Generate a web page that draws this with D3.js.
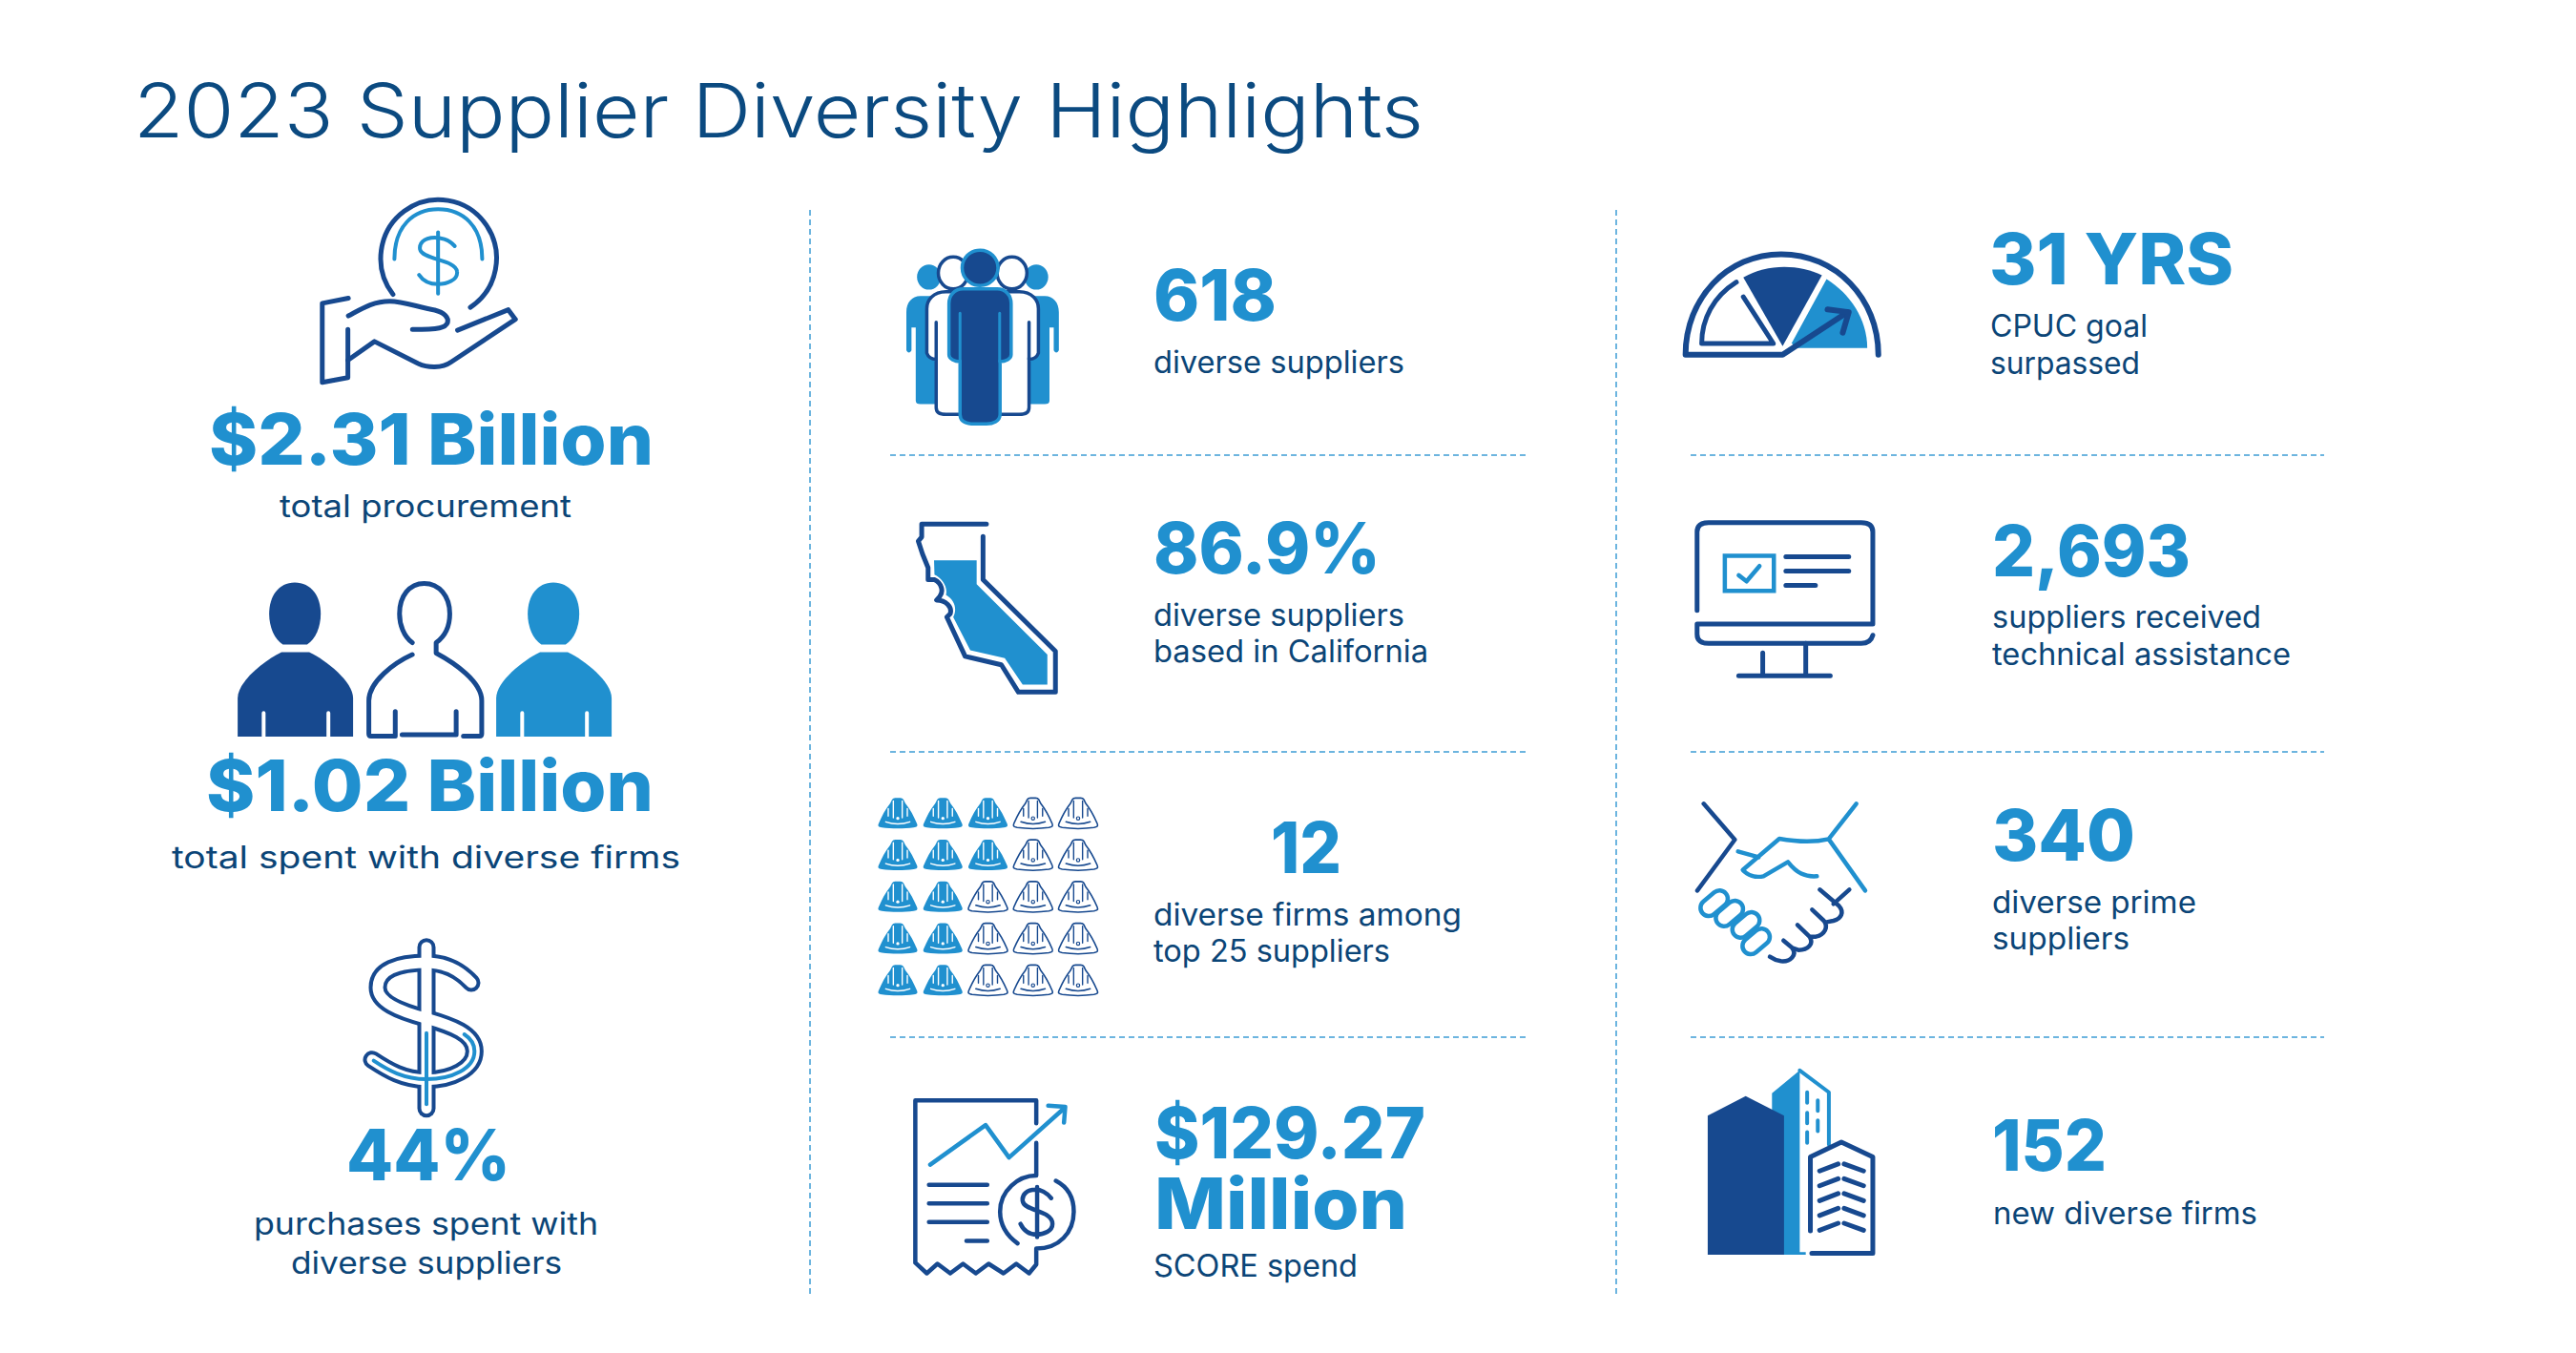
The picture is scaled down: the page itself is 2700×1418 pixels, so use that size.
<!DOCTYPE html>
<html>
<head>
<meta charset="utf-8">
<title>2023 Supplier Diversity Highlights</title>
<script src="https://cdn.jsdelivr.net/npm/d3@7"></script>
<style>
html, body { margin: 0; padding: 0; background: #fff; }
svg { display: block; }
text { font-family: Inter, "Open Sans", sans-serif; }
.title { font-size: 78px; font-weight: 300; fill: #0b4a80; }
.big { font-size: 74px; font-weight: 800; fill: #2090cf; }
.label { font-size: 32px; font-weight: 400; fill: #0b4577; }
path, ellipse, rect, line { vector-effect: non-scaling-stroke; }
</style>
</head>
<body>
<svg id="chart" width="2700" height="1418"></svg>
<script>
var titleText = "2023 Supplier Diversity Highlights";
var leftValues = ["$2.31 Billion", "$1.02 Billion", "44%"];
var leftLabels = ["total procurement", "total spent with diverse firms", "purchases spent with", "diverse suppliers"];
var midValues = ["618", "86.9%", "12", "$129.27", "Million"];
var midLabels = ["diverse suppliers", "diverse suppliers", "based in California", "diverse firms among", "top 25 suppliers", "SCORE spend"];
var rightValues = ["31 YRS", "2,693", "340", "152"];
var rightLabels = ["CPUC goal", "surpassed", "suppliers received", "technical assistance", "diverse prime", "suppliers", "new diverse firms"];
// filled helmets in each row, 12 out of 25
var helmetsFilled = [3, 3, 2, 2, 2];
var helmetColumns = [0, 1, 2, 3, 4];

var NAVY = "#17498f";
var BLUE = "#2090cf";
var DASH = "#6db5df";

var svg = d3.select("#chart");
svg.append("rect").attr("width", 2700).attr("height", 1418).attr("fill", "#fff");

// text is fitted to the width it has in the reference
function txt(s, x, y, w, cls) {
	svg.append("text")
		.attr("class", cls)
		.attr("x", x)
		.attr("y", y)
		.attr("textLength", w)
		.attr("lengthAdjust", "spacingAndGlyphs")
		.text(s);
}

function dashLine(x1, y1, x2, y2) {
	svg.append("line")
		.attr("x1", x1).attr("y1", y1)
		.attr("x2", x2).attr("y2", y2)
		.attr("stroke", DASH)
		.attr("stroke-width", 2)
		.attr("stroke-dasharray", "6 4");
}

// icons are sketched on a box of the given size that covers a part of the page
function box(x, y, w, h, size) {
	return svg.append("g").attr("transform", "translate(" + x + "," + y + ") scale(" + (w / size) + "," + (h / size) + ")");
}

function line(g, d, color, width) {
	return g.append("path")
		.attr("d", d)
		.attr("fill", "none")
		.attr("stroke", color)
		.attr("stroke-width", width)
		.attr("stroke-linecap", "round")
		.attr("stroke-linejoin", "round");
}

function shape(g, d, color) {
	return g.append("path").attr("d", d).attr("fill", color);
}

function oval(g, cx, cy, rx, ry, fill, stroke, width) {
	return g.append("ellipse")
		.attr("cx", cx).attr("cy", cy)
		.attr("rx", rx).attr("ry", ry)
		.attr("fill", fill)
		.attr("stroke", stroke)
		.attr("stroke-width", width);
}

// title and texts
txt(titleText, 140, 144, 1352, "title");

txt(leftValues[0], 219, 487, 466, "big");
txt(leftLabels[0], 293, 542, 306, "label");
txt(leftValues[1], 216, 850, 469, "big");
txt(leftLabels[1], 180, 910, 533, "label");
txt(leftValues[2], 363, 1237, 172, "big");
txt(leftLabels[2], 266, 1294, 361, "label");
txt(leftLabels[3], 305, 1335, 284, "label");

txt(midValues[0], 1209, 336, 129, "big");
txt(midLabels[0], 1209, 391, 263, "label");
txt(midValues[1], 1209, 601, 238, "big");
txt(midLabels[1], 1209, 656, 263, "label");
txt(midLabels[2], 1209, 694, 288, "label");
txt(midValues[2], 1332, 915, 74, "big");
txt(midLabels[3], 1209, 970, 323, "label");
txt(midLabels[4], 1209, 1008, 248, "label");
txt(midValues[3], 1210, 1214, 284, "big");
txt(midValues[4], 1210, 1288, 265, "big");
txt(midLabels[5], 1209, 1338, 214, "label");

txt(rightValues[0], 2085, 298, 256, "big");
txt(rightLabels[0], 2086, 353, 165, "label");
txt(rightLabels[1], 2086, 392, 157, "label");
txt(rightValues[1], 2088, 604, 208, "big");
txt(rightLabels[2], 2088, 658, 282, "label");
txt(rightLabels[3], 2088, 697, 313, "label");
txt(rightValues[2], 2088, 902, 150, "big");
txt(rightLabels[4], 2088, 957, 214, "label");
txt(rightLabels[5], 2088, 995, 144, "label");
txt(rightValues[3], 2088, 1227, 120, "big");
txt(rightLabels[6], 2089, 1283, 277, "label");

// dotted rules
dashLine(849, 220, 849, 1360);
dashLine(1694, 220, 1694, 1360);
[477, 788, 1087].forEach(function (y) {
	dashLine(933, y, 1601, y);
	dashLine(1772, y, 2436, y);
});

// hand with coin
var g = box(100, 40, 780, 560, 1568);
line(g, "M627,752 A122,172 0 1 1 790,790", NAVY, 5);
line(g, "M630,648 C630,552 670,502 722,502 C775,502 815,552 815,648", BLUE, 4);
line(g, "M757,610 C745,590 725,585 715,585 C690,585 682,605 684,620 C688,650 760,650 762,685 C764,710 740,722 722,722 C705,722 690,712 682,695", BLUE, 4);
line(g, "M722,570 V750", BLUE, 4);
line(g, "M533,763 L478,778 V1010 L532,996 V855", NAVY, 5);
line(g, "M533,815 C560,795 585,772 620,772 C650,772 680,790 715,798 C735,805 745,820 742,835 C738,850 725,855 668,855", NAVY, 5);
line(g, "M532,945 L588,890 L680,955 C700,968 730,970 750,950 L885,825 L870,797 L763,857", NAVY, 5);

// three people
g = box(150, 590, 700, 780, 1568);
function person(dx, color) {
	var p = g.append("g").attr("transform", "translate(" + dx + ",0)");
	shape(p, "M356,41 C395,41 417,70 417,107 C417,135 405,160 385,172 H328 C308,160 296,135 296,107 C296,70 318,41 356,41Z", color);
	shape(p, "M325,188 H390 C430,205 493,250 493,285 V366 H222 V285 C222,250 285,205 325,188Z", color);
	line(p, "M283,316 V368 M435,316 V368", "#fff", 4);
}
person(0, NAVY);
person(607, BLUE);
line(g, "M632,168 C612,155 602,130 602,107 C602,70 625,43 660,43 C695,43 720,70 720,107 C720,135 708,155 688,168 V190 C730,210 795,250 795,290 V360 Q795,365 790,365 H752", NAVY, 5);
line(g, "M632,193 C590,210 530,250 530,290 V360 Q530,365 535,365 H592 V313", NAVY, 5);
line(g, "M608,362 H735 V313", NAVY, 5);

// big dollar sign
g = box(360, 980, 200, 200, 600);
var bigS = "M402,150 C360,105 310,87 261,87 C170,87 108,110 108,165 C108,210 170,238 261,262 C340,285 412,310 412,365 C412,420 340,455 261,455 C190,455 140,425 90,392";
line(g, bigS, NAVY, 19);
line(g, "M261,38 V545", NAVY, 19);
line(g, bigS, "#fff", 11);
line(g, "M261,38 V545", "#fff", 11);
line(g, "M380,312 C400,325 412,345 412,365 C412,420 340,453 261,453 C190,453 140,425 95,395", BLUE, 4);
line(g, "M261,308 V532", BLUE, 4);

// group of people
g = box(900, 220, 700, 560, 1568);
function backPeople(p) {
	oval(p, 165, 197, 28, 37, BLUE, "none", 0);
	shape(p, "M200,253 H145 C125,253 112,272 112,300 V412 Q118,425 124,412 V345 H134 V560 Q134,570 145,570 H200 Z", BLUE);
	oval(p, 222, 185, 35, 47, "#fff", NAVY, 3.5);
	p.append("path")
		.attr("d", "M291,240 H205 C175,240 160,265 160,290 V420 Q165,438 182,438 V580 Q182,600 205,600 H291 Z")
		.attr("fill", "#fff")
		.attr("stroke", NAVY)
		.attr("stroke-width", 3.5);
	line(p, "M182,330 V438", NAVY, 3.5);
}
backPeople(g.append("g"));
backPeople(g.append("g").attr("transform", "translate(582,0) scale(-1,1)"));
oval(g, 285, 170, 42, 52, NAVY, BLUE, 3.5);
g.append("path")
	.attr("d", "M245,232 H325 C345,232 358,250 358,275 V425 C358,437 345,445 332,445 V600 C332,620 315,628 300,628 H270 C250,628 238,620 238,600 V445 C225,445 212,437 212,425 V275 C212,250 225,232 245,232Z")
	.attr("fill", NAVY)
	.attr("stroke", BLUE)
	.attr("stroke-width", 3.5);
line(g, "M238,303 V445 M331,303 V445", BLUE, 3);

// california
line(g, "M300,922 H148 V960 L140,972 L150,1010 L163,1050 V1085 H178 C195,1095 200,1120 190,1135 L183,1145 C205,1145 220,1165 215,1185 L207,1195 L250,1310 L335,1335 L375,1415 H462 V1295 L292,1085 V958", NAVY, 5);
shape(g, "M177,1028 H277 V1098 L443,1305 V1393 H385 L343,1315 L262,1292 L222,1195 C232,1170 225,1145 205,1130 C210,1105 195,1080 178,1070 Z", BLUE);

// helmets
var helmetX = d3.scalePoint().domain(helmetColumns).range([941, 1130]);
var helmetY = d3.scalePoint().domain(d3.range(helmetsFilled.length)).range([852, 1027]);
var HELMET = "M-60,33 C-50,10 -40,-10 -24,-30 L-18,-42 Q-15,-47 -8,-47 H8 Q15,-47 18,-42 L24,-30 C40,-10 50,10 60,33 C64,42 60,44 50,46 C20,50 -20,50 -50,46 C-60,44 -64,42 -60,33 Z";
var RIDGES = "M-14,-38 V15 M14,-38 V15 M-30,-14 V10 M30,-14 V10";
var SMILE = "M-38,28 C-15,36 15,36 38,28";
helmetsFilled.forEach(function (filled, row) {
	helmetColumns.forEach(function (col) {
		var h = svg.append("g").attr("transform", "translate(" + helmetX(col) + "," + helmetY(row) + ") scale(0.3333)");
		if (col < filled) {
			shape(h, HELMET, BLUE);
			line(h, RIDGES, "#fff", 1.4);
			line(h, SMILE, "#fff", 1.4);
			oval(h, 0, 17, 5, 5, "#fff", "none", 0);
		} else {
			h.append("path").attr("d", HELMET).attr("fill", "#fff").attr("stroke", NAVY).attr("stroke-width", 1.6);
			line(h, RIDGES, NAVY, 1.4);
			line(h, SMILE, NAVY, 1.6);
			oval(h, 0, 17, 5, 5, "#fff", NAVY, 1.2);
		}
	});
});

// receipt
g = box(900, 800, 700, 580, 1568);
line(g, "M417,1020 V955 H133 V1415 L160,1445 L185,1418 L215,1445 L245,1418 L275,1445 L305,1418 L340,1445 L370,1418 L400,1445 L417,1420 V1375 C470,1375 505,1330 505,1270 C505,1230 490,1200 463,1183", NAVY, 4.5);
line(g, "M417,1075 V1168 C375,1168 332,1210 332,1270 C332,1310 350,1340 373,1360", NAVY, 4.5);
line(g, "M165,1194 H302 M165,1247 H302 M165,1300 H302 M253,1353 H302", NAVY, 4.5);
line(g, "M452,1232 C440,1215 425,1208 415,1208 C395,1208 383,1222 385,1240 C388,1270 455,1265 455,1305 C455,1325 435,1335 418,1335 C400,1335 388,1325 380,1305 M419,1200 V1342", NAVY, 4.5);
line(g, "M168,1137 L298,1025 L353,1117 L480,980 M445,970 L485,973 L482,1018", BLUE, 4.5);

// gauge
g = box(1740, 220, 760, 560, 1568);
shape(g, "M360,203 C410,245 448,320 448,405 H290 L285,390 Z", BLUE);
shape(g, "M180,198 C230,158 300,158 350,192 L265,400 Z", NAVY);
line(g, "M472,425 C472,260 380,130 262,130 C145,130 55,260 55,425 H265 L405,300", NAVY, 6);
line(g, "M362,292 L408,300 L395,360", NAVY, 6);
line(g, "M165,212 C115,255 90,320 90,392 H245 L180,255", NAVY, 5);

// monitor
line(g, "M80,1175 V945 Q80,918 105,918 H435 Q460,918 460,945 V1215 H80 V1245 Q80,1272 105,1272 H435 Q455,1272 460,1248", NAVY, 5);
line(g, "M315,1272 V1365 M222,1300 V1365 M170,1367 H368", NAVY, 5);
g.append("rect").attr("x", 140).attr("y", 1015).attr("width", 106).attr("height", 103)
	.attr("fill", "none").attr("stroke", BLUE).attr("stroke-width", 4.5);
line(g, "M170,1072 L187,1090 L215,1045", BLUE, 4.5);
line(g, "M272,1018 H408 M272,1060 H408 M272,1102 H336", NAVY, 5);

// handshake
g = box(1770, 830, 220, 220, 660);
line(g, "M47,37 L145,150 L27,310", NAVY, 4.5);
line(g, "M527,37 L440,148 L555,310 M440,148 C390,160 330,155 285,147 L170,245 C185,262 210,270 235,265 L312,220 C340,255 365,268 403,265 M155,187 L220,205", BLUE, 4.5);
[[80, 350], [128, 382], [180, 418], [212, 470]].forEach(function (c) {
	g.append("rect")
		.attr("x", c[0] - 48).attr("y", c[1] - 26)
		.attr("width", 96).attr("height", 52).attr("rx", 26)
		.attr("fill", "#fff")
		.attr("stroke", BLUE)
		.attr("stroke-width", 4.5)
		.attr("transform", "rotate(-40 " + c[0] + " " + c[1] + ")");
});
line(g, "M505,307 L455,352 M412,307 L472,358 C490,378 480,398 455,405 L430,410 M388,370 L425,405 C440,425 428,448 400,455 L380,455 M342,418 L380,455 C395,478 375,497 345,497 L325,490 M298,467 L325,490 C342,512 320,535 290,532 C275,530 265,525 255,518", NAVY, 4.5);

// buildings
g = box(1740, 800, 760, 580, 1568);
shape(g, "M302,870 L242,935 V1392 H315 V1385 H302 Z", BLUE);
line(g, "M302,870 L365,932 V1080", BLUE, 4);
line(g, "M318,932 V962 M318,990 V1020 M318,1045 V1075 M341,955 V985 M341,1012 V1042", BLUE, 4);
shape(g, "M185,943 L103,998 V1392 H268 V998 Z", NAVY);
line(g, "M325,1325 V1115 L392,1073 L460,1115 V1388 H328", NAVY, 5);
d3.range(5).forEach(function (i) {
	var o = i * 42;
	line(g, "M345," + (1155 + o) + " L385," + (1135 + o) + " M398," + (1135 + o) + " L440," + (1155 + o), NAVY, 5);
});
</script>
</body>
</html>
